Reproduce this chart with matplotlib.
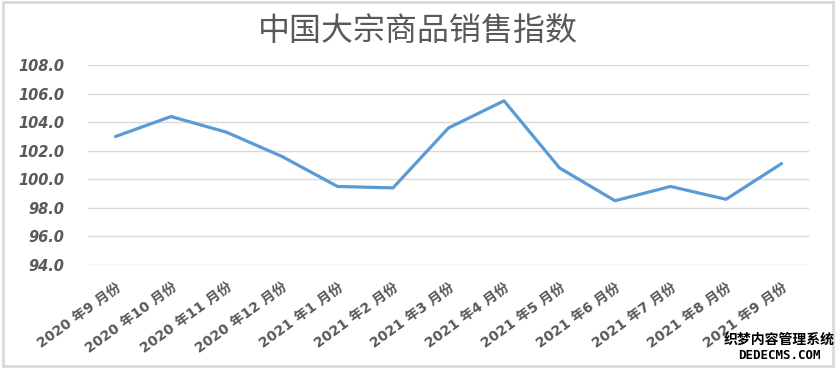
import matplotlib.pyplot as plt
from matplotlib.patches import Rectangle

# 数据
months = ['2020 年9 月份', '2020 年10 月份', '2020 年11 月份', '2020 年12 月份',
          '2021 年1 月份', '2021 年2 月份', '2021 年3 月份', '2021 年4 月份',
          '2021 年5 月份', '2021 年6 月份', '2021 年7 月份', '2021 年8 月份',
          '2021 年9 月份']
index_values = [103.0, 104.4, 103.3, 101.6, 99.5, 99.4, 103.6, 105.5,
                100.8, 98.5, 99.5, 98.6, 101.1]
y_ticks = [94, 96, 98, 100, 102, 104, 106, 108]

fams = ['DejaVu Sans', 'Noto Sans CJK SC']
grey = '#595959'

fig = plt.figure(figsize=(8.36, 3.68), dpi=100)
ax = fig.add_axes([0.105, 0.280, 0.863, 0.543])

x = list(range(len(months)))
ax.plot(x, index_values, color='#5B9BD5', linewidth=2.3, solid_capstyle='round',
        solid_joinstyle='round', zorder=3)

ax.set_xlim(-0.5, len(months) - 0.5)
ax.set_ylim(94, 108)
ax.set_yticks(y_ticks)
ax.set_yticklabels([f'{v:.1f}' for v in y_ticks], fontsize=10.5, color=grey,
                   style='italic', fontweight='bold', family=fams)
ax.yaxis.grid(True, color='#d9d9d9', linewidth=1)
ax.set_axisbelow(True)
ax.tick_params(axis='y', length=0, pad=17)
ax.tick_params(axis='x', length=0, pad=11)

ax.set_xticks(x)
ax.set_xticklabels(months, rotation=36, ha='right', va='top', rotation_mode='anchor',
                   fontsize=10, color=grey, fontweight='bold', family=fams)
for s in ax.spines.values():
    s.set_visible(False)

# 标题
fig.text(0.5, 0.912, '中国大宗商品销售指数', ha='center', va='center',
         fontsize=23, color=grey, fontweight='light',
         family=['Noto Sans CJK SC', 'DejaVu Sans'])

# 外框
fig.patches.append(Rectangle((0.003, 0.005), 0.994, 0.99, transform=fig.transFigure,
                             fill=False, edgecolor='#d9d9d9', linewidth=2))

# 水印
fig.text(0.932, 0.078, '织梦内容管理系统', ha='center', va='center', fontsize=10,
         fontweight='bold', color='black', family=['Noto Sans CJK SC', 'DejaVu Sans'])
fig.text(0.932, 0.034, 'DEDECMS.COM', ha='center', va='center', fontsize=9,
         fontweight='bold', color='black', family=['DejaVu Sans Mono', 'DejaVu Sans'])

fig.savefig('out.png', dpi=100)
